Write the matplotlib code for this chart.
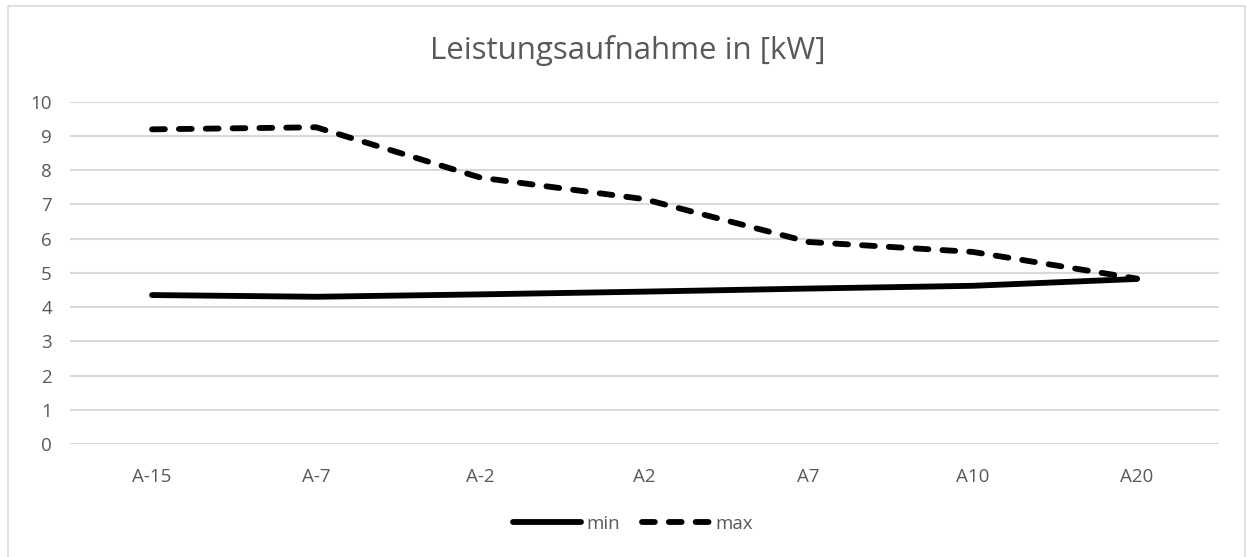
import matplotlib
matplotlib.use('Agg')
import matplotlib.pyplot as plt
from matplotlib.patches import Rectangle
from matplotlib.lines import Line2D
import numpy as np

# Data
categories = ['A-15', 'A-7', 'A-2', 'A2', 'A7', 'A10', 'A20']
min_kw = [4.35, 4.30, 4.37, 4.45, 4.54, 4.62, 4.82]
max_kw = [9.19, 9.25, 7.78, 7.15, 5.90, 5.61, 4.83]

grid_col = '#D9D9D9'
text_col = '#595959'
plt.rcParams['font.family'] = ['Open Sans', 'DejaVu Sans']

fig = plt.figure(figsize=(12.47, 5.57), dpi=100)
ax = fig.add_axes([70 / 1247, 1 - 444 / 557, 1149 / 1247, 342.4 / 557])

# outer chart border
fig.patches.append(Rectangle((8 / 1247, -0.01), 1237 / 1247, 1 - 6 / 557 + 0.01,
                             transform=fig.transFigure, fill=False,
                             edgecolor=grid_col, linewidth=1.2))

x = np.arange(len(categories))
lw = 4.2
ax.plot(x, min_kw, color='black', linewidth=lw, solid_capstyle='round',
        solid_joinstyle='round', zorder=3)
l2, = ax.plot(x, max_kw, color='black', linewidth=lw, dash_capstyle='round',
              dash_joinstyle='round', zorder=3)
l2.set_dashes([2.2, 2.4])

ax.set_xlim(-0.5, len(categories) - 0.5)
ax.set_ylim(0, 10)
ax.set_yticks(range(0, 11))
ax.set_xticks(x)
ax.set_xticklabels(categories)
ax.grid(axis='y', color=grid_col, linewidth=1.5)
ax.set_axisbelow(True)
for s in ax.spines.values():
    s.set_visible(False)
ax.tick_params(axis='both', length=0, labelsize=13.5, colors=text_col)
ax.tick_params(axis='y', pad=13)
ax.tick_params(axis='x', pad=17)

fig.text(628 / 1247, 1 - 51 / 557, 'Leistungsaufnahme in [kW]', ha='center', va='center',
         fontsize=22.5, color=text_col)

# legend
h1 = Line2D([], [], color='black', linewidth=lw, solid_capstyle='round')
h2 = Line2D([], [], color='black', linewidth=lw, dash_capstyle='round')
h2.set_dashes([2.2, 2.4])
leg = fig.legend([h1, h2], ['min', 'max'], loc='center', bbox_to_anchor=(633 / 1247, 1 - 524 / 557),
                 ncol=2, frameon=False, fontsize=13.5, handlelength=3.6, handletextpad=0.3,
                 columnspacing=1.2)
for t in leg.get_texts():
    t.set_color(text_col)

fig.savefig('out.png', dpi=100)
